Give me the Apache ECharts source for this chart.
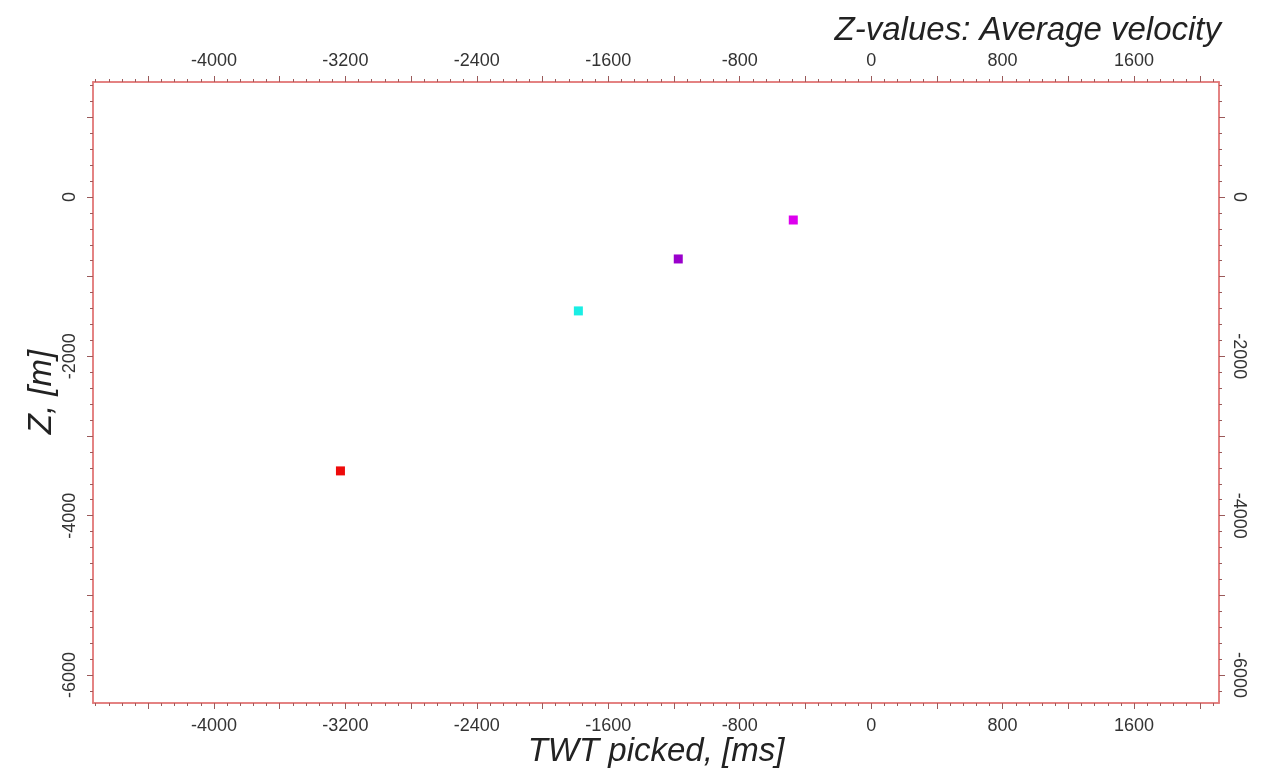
<!DOCTYPE html>
<html><head><meta charset="utf-8">
<script src="https://cdn.jsdelivr.net/npm/echarts@6/dist/echarts.min.js"></script>
<style>html,body{margin:0;padding:0;background:#fff}#c{width:1272px;height:771px}</style>
</head><body><div id="c"></div>
<script>
// Data
const twtPicked = [-3230, -1782, -1174, -474];
const zDepth = [-3438, -1430, -778, -289];
const pointColors = ['#ee0a0a', '#1aeee4', '#9a00cc', '#dd00ee'];
const xLabelValues = [-4000, -3200, -2400, -1600, -800, 0, 800, 1600];
const yLabelValues = [0, -2000, -4000, -6000];
const xRange = [-4736, 2117];
const yRange = [-6351, 1443];

function range(a, b, step) { const r = []; for (let v = a; v <= b + 1e-9; v += step) r.push(v); return r; }
const xMajorTicks = range(-4400, 2000, 400);
const xMinorTicks = range(-4720, 2080, 80);
const yMajorTicks = range(-6000, 1000, 1000);
const yMinorTicks = range(-6200, 1400, 200);

const lineColor = '#e27b7b';
const tickColor = '#9a5a5a';
const labelStyle = { color: '#333', fontSize: 18, fontFamily: 'Liberation Sans, Arial, sans-serif', formatter: v => String(v) };

function xAx(pos, ticks, len, labels, margin) {
  return {
    type: 'value', position: pos, min: xRange[0], max: xRange[1],
    axisLine: { show: true, onZero: false, lineStyle: { color: lineColor, width: 1.5 } },
    axisTick: { show: true, inside: false, length: len, customValues: ticks, lineStyle: { color: tickColor, width: 1 } },
    axisLabel: labels ? Object.assign({ show: true, margin: margin, customValues: xLabelValues }, labelStyle) : { show: false },
    splitLine: { show: false }
  };
}
function yAx(pos, ticks, len, labels, rot, margin) {
  return {
    type: 'value', position: pos, min: yRange[0], max: yRange[1],
    axisLine: { show: true, onZero: false, lineStyle: { color: lineColor, width: 1.5 } },
    axisTick: { show: true, inside: false, length: len, customValues: ticks, lineStyle: { color: tickColor, width: 1 } },
    axisLabel: labels ? Object.assign({ show: true, margin: margin, rotate: rot, customValues: yLabelValues }, labelStyle) : { show: false },
    splitLine: { show: false }
  };
}

const chart = echarts.init(document.getElementById('c'), null, { renderer: 'canvas' });
const data = twtPicked.map((x, i) => ({ value: [x, zDepth[i]], itemStyle: { color: pointColors[i], opacity: 1 } }));

chart.setOption({
  animation: false,
  backgroundColor: '#fff',
  grid: { left: 93, right: 53, top: 82, bottom: 68, containLabel: false },
  xAxis: [
    xAx('bottom', xMajorTicks, 6, true, 14),
    xAx('bottom', xMinorTicks, 3, false),
    xAx('top', xMajorTicks, 6, true, 12),
    xAx('top', xMinorTicks, 3, false)
  ],
  yAxis: [
    yAx('left', yMajorTicks, 6, true, 90, 14),
    yAx('left', yMinorTicks, 3, false, 0),
    yAx('right', yMajorTicks, 6, true, -90, 11),
    yAx('right', yMinorTicks, 3, false, 0)
  ],
  series: [{
    type: 'scatter', xAxisIndex: 0, yAxisIndex: 0,
    symbol: 'rect', symbolSize: 9, data: data
  }],
  graphic: [
    { type: 'text', x: 656, y: 752, style: { text: 'TWT picked, [ms]', font: 'italic 33px "Liberation Sans", Arial, sans-serif', fill: '#222', align: 'center', verticalAlign: 'middle' } },
    { type: 'text', x: 1221, y: 31, style: { text: 'Z-values: Average velocity', font: 'italic 33px "Liberation Sans", Arial, sans-serif', fill: '#222', align: 'right', verticalAlign: 'middle' } },
    { type: 'text', x: 42, y: 392, rotation: Math.PI / 2, style: { text: 'Z, [m]', font: 'italic 33px "Liberation Sans", Arial, sans-serif', fill: '#222', align: 'center', verticalAlign: 'middle' } }
  ]
});
</script></body></html>
